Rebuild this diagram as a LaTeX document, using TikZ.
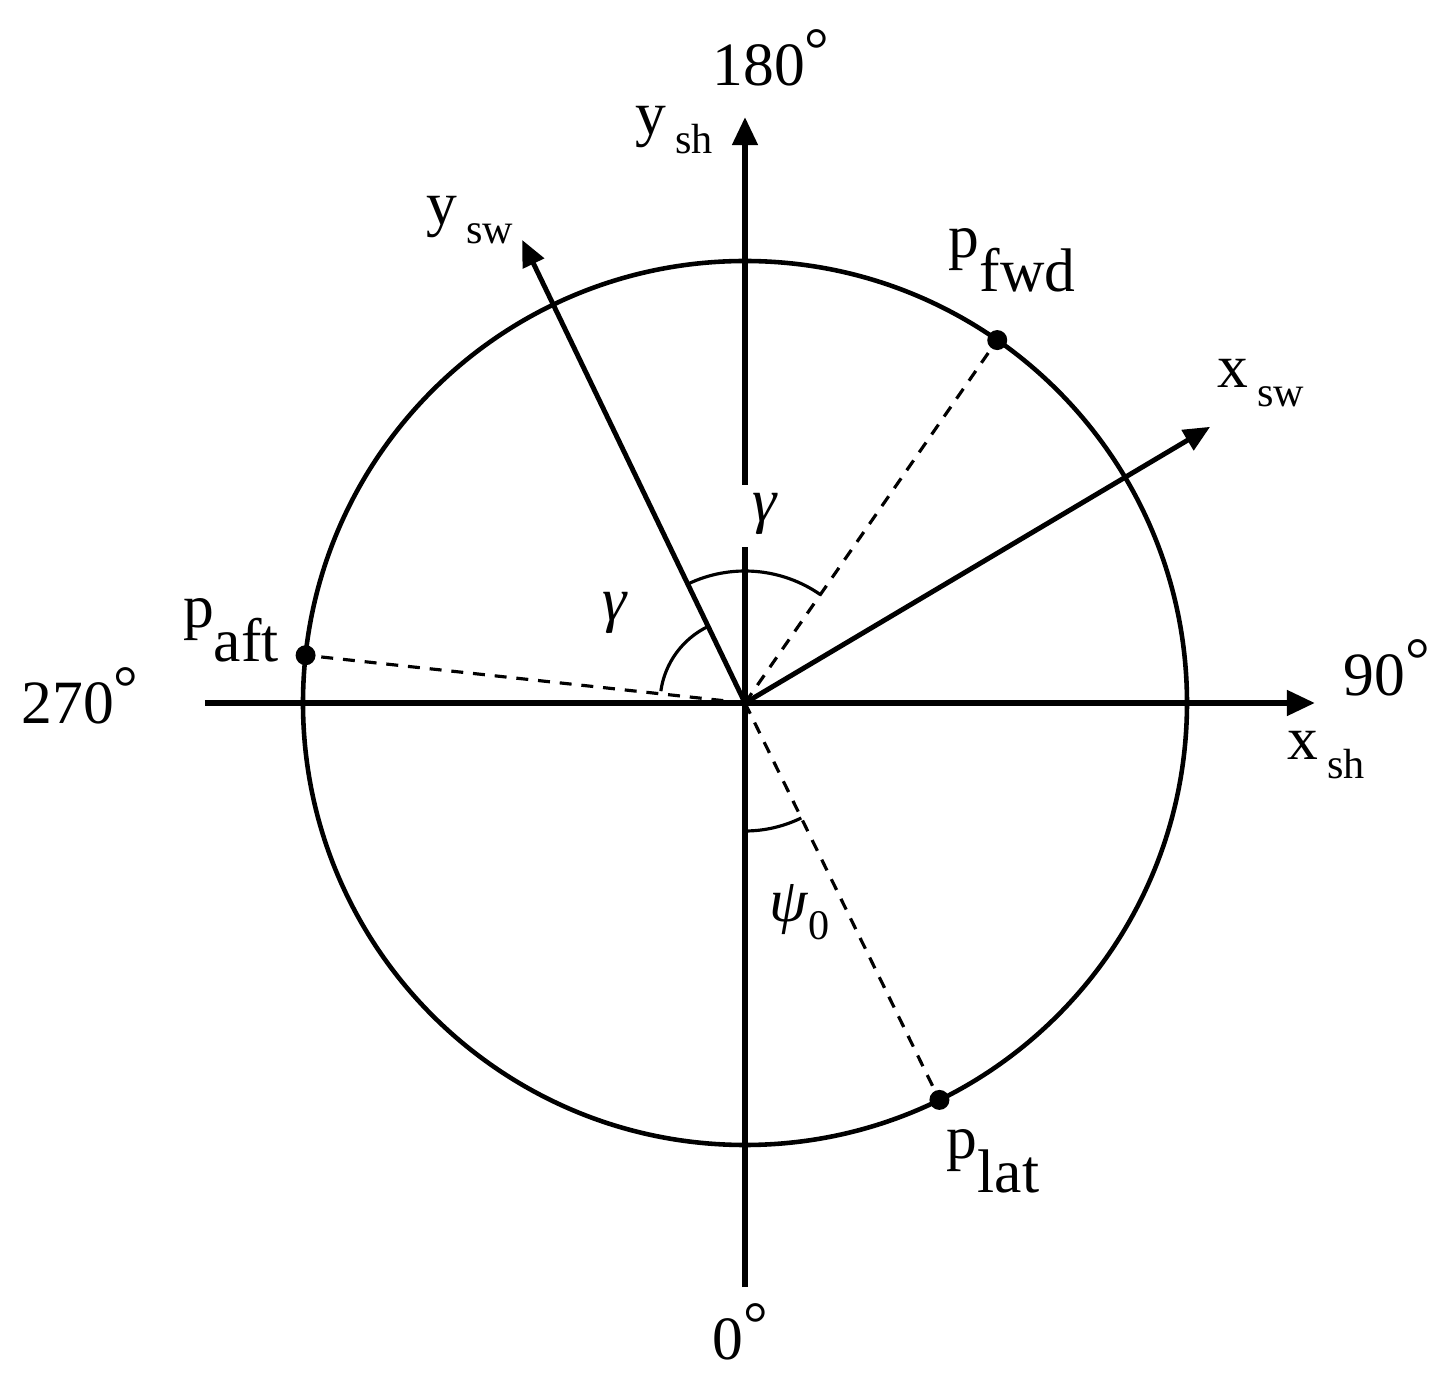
\documentclass[tikz,border=0pt]{standalone}
\usepackage{fontspec}
\setmainfont{Liberation Serif}
\usetikzlibrary{calc,arrows.meta}
\newcommand{\psub}[2]{#1\raisebox{-0.55em}{#2}}
\newcommand{\ssub}[2]{#1\hspace{0.15em}\raisebox{-0.32em}{\fontsize{12}{12}\selectfont #2}}
\newcommand{\dgr}[1]{#1\raisebox{0.25em}{°}}
\tikzset{
  axisline/.style={line width=1.7pt},
  axis/.style={axisline, -{Triangle[length=8pt,width=7pt]}},
  vec/.style={line width=1.4pt, -{Triangle[length=7.5pt,width=6.5pt]}},
  rim/.style={line width=1.3pt},
  guide/.style={line width=0.9pt, dash pattern=on 3.4pt off 2.8pt},
  anglemark/.style={line width=0.9pt},
  lbl/.style={font=\fontsize{17.5}{20}\selectfont, inner sep=0pt},
}

\begin{document}
\begin{tikzpicture}[x=0.01cm, y=0.01cm]
  \useasboundingbox (-745,-685) rectangle (700,703);
  \coordinate (O) at (0,0);
  \coordinate (xshL) at (-540,0);
  \coordinate (xshR) at (570,0);
  \coordinate (yshB) at (0,-584);
  \coordinate (gapB) at (0,156);
  \coordinate (gapT) at (0,218);
  \coordinate (yshT) at (0,586);
  \coordinate (ysw) at (115.7:514);
  \coordinate (xsw) at (30.7:541);
  \coordinate (pfwd) at (55.2:442);
  \coordinate (paft) at (173.8:442);
  \coordinate (plat) at (296.1:442);
  % shaft circle and axes
  \draw[rim] (O) circle (442);
  \draw[axis] (xshL) -- (xshR);
  \draw[axisline] (yshB) -- (gapB);
  \draw[axis] (gapT) -- (yshT);
  \draw[vec] (O) -- (ysw);
  \draw[vec] (O) -- (xsw);
  % pressure taps
  \draw[guide] (O) -- (pfwd);
  \draw[guide] (O) -- (paft);
  \draw[guide] (O) -- (plat);
  \fill (pfwd) circle (10);
  \fill (paft) circle (10);
  \fill (plat) circle (10);
  % angles
  \draw[anglemark] (115.7:132) arc[start angle=115.7, end angle=55.2, radius=132];
  \draw[anglemark] (115.7:85) arc[start angle=115.7, end angle=172, radius=85];
  \draw[anglemark] (270:128) arc[start angle=270, end angle=296.1, radius=128];
  % labels
  \node[lbl] (t180) at (26,645) {\dgr{180}};
  \node[lbl] (t90) at (642,35) {\dgr{90}};
  \node[lbl] (t270) at (-665,7) {\dgr{270}};
  \node[lbl] (t0) at (-5,-629) {\dgr{0}};
  \node[lbl] (lysh) at (-71,573) {\ssub{y}{sh}};
  \node[lbl] (lxsh) at (581,-52) {\ssub{x}{sh}};
  \node[lbl] (lysw) at (-275,483) {\ssub{y}{sw}};
  \node[lbl] (lxsw) at (516,320) {\ssub{x}{sw}};
  \node[lbl] (lfwd) at (267,443) {\psub{p}{fwd}};
  \node[lbl] (laft) at (-514,73) {\psub{p}{aft}};
  \node[lbl] (llat) at (248,-458) {\psub{p}{lat}};
  \node[lbl] (g1) at (20,189) {\textit{γ}};
  \node[lbl] (g2) at (-130,90) {\textit{γ}};
  \node[lbl] (psi) at (55,-209) {\textit{ψ}\raisebox{-0.3em}{\fontsize{12}{12}\selectfont 0}};
\end{tikzpicture}
\end{document}
